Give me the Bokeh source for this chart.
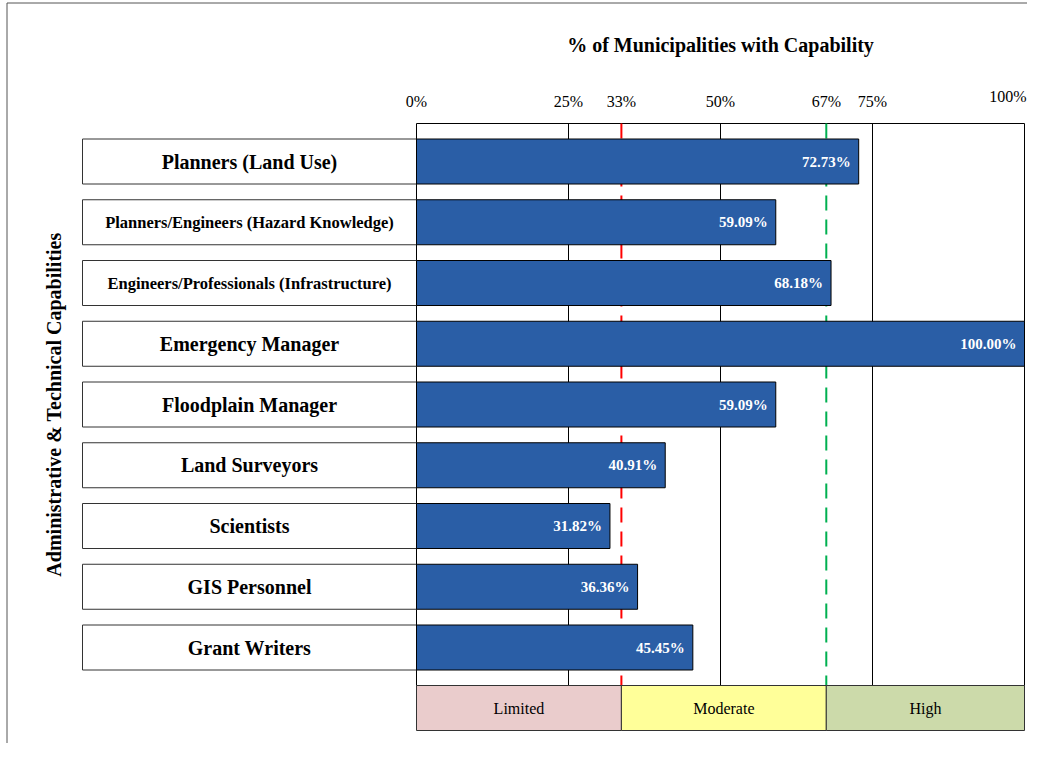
import math
from bokeh.plotting import figure
from bokeh.models import Range1d, ColumnDataSource
from bokeh.core.properties import value
from bokeh.embed import file_html
from bokeh.resources import INLINE

# ---------------- data ----------------
categories = [
    "Planners (Land Use)",
    "Planners/Engineers (Hazard Knowledge)",
    "Engineers/Professionals (Infrastructure)",
    "Emergency Manager",
    "Floodplain Manager",
    "Land Surveyors",
    "Scientists",
    "GIS Personnel",
    "Grant Writers",
]
percent_values = [72.73, 59.09, 68.18, 100.00, 59.09, 40.91, 31.82, 36.36, 45.45]

threshold_values = [33.7, 67.4]
tick_values = [0, 25, threshold_values[0], 50, threshold_values[1], 75]
tick_labels = ["0%", "25%", "33%", "50%", "67%", "75%"]
end_tick_value = 100
end_tick_label = "100%"
grid_values = [25, 50, 75]

band_names = ["Limited", "Moderate", "High"]
band_starts = [0, threshold_values[0], threshold_values[1]]
band_ends = [threshold_values[0], threshold_values[1], 100]

title_text = "% of Municipalities with Capability"
ylabel_text = "Administrative & Technical Capabilities"

# ---------------- layout (pixels of the picture) ----------------
W, H = 1027, 743
X0_PX, X100_PX = 416, 1024         # 0% and 100%
Y0_PX, STEP_PX = 161, 60.75        # center of first category, spacing
PX_PER_PCT = (X100_PX - X0_PX) / 100.0


def px_x(px):
    return (px - X0_PX) / PX_PER_PCT


def px_y(py):
    return (py - Y0_PX) / STEP_PX


FONT = value("Liberation Serif")
BAR_COLOR = "#2A5EA6"
BAND_COLORS = ["#EACCCC", "#FFFF99", "#CCDAAA"]
THRESH_COLORS = ["#FF0000", "#00B050"]

p = figure(
    width=W, height=H,
    x_range=Range1d(px_x(0), px_x(W)),
    y_range=Range1d(px_y(H), px_y(0)),
    x_axis_location=None, y_axis_location=None,
    toolbar_location=None, output_backend="svg",
    min_border=0,
)
p.outline_line_color = None
p.grid.visible = False
p.background_fill_color = "white"
p.border_fill_color = "white"

# outer border (left and top)
p.segment(x0=[px_x(6.5), px_x(6.5)], x1=[px_x(6.5), px_x(W)],
          y0=[px_y(2.5), px_y(2.5)], y1=[px_y(H), px_y(2.5)],
          line_color="#555555", line_width=1)

n = len(categories)
y_idx = list(range(n))
box_top = px_y(123)
box_bot = px_y(685)
band_bot = px_y(730)
bar_h = 45 / STEP_PX

# plot box
p.quad(left=[0], right=[100], top=[box_top], bottom=[box_bot],
       fill_color=None, line_color="black", line_width=1)

# gridlines at 25/50/75
p.segment(x0=grid_values, x1=grid_values,
          y0=[box_top] * len(grid_values), y1=[box_bot] * len(grid_values),
          line_color="black", line_width=1)

# threshold dashed lines
p.segment(x0=threshold_values, x1=threshold_values,
          y0=[box_top] * 2, y1=[box_bot] * 2,
          line_color=THRESH_COLORS, line_width=2, line_dash="15 9")

# category label boxes
p.hbar(y=y_idx, left=px_x(82), right=0, height=bar_h,
       fill_color="white", line_color="#333333", line_width=1)

# bars
src = ColumnDataSource(dict(
    y=y_idx, v=percent_values, cat=categories,
    vlab=[f"{v:.2f}%" for v in percent_values],
    fs=["16.5px" if len(c) > 30 else "20px" for c in categories],
))
p.hbar(y="y", left=0, right="v", height=bar_h, source=src,
       fill_color=BAR_COLOR, line_color="black", line_width=1)

# value labels
p.text(x="v", y="y", text="vlab", source=src, x_offset=-8,
       text_align="right", text_baseline="middle",
       text_color="white", text_font=FONT, text_font_style="bold",
       text_font_size="15px")

# category labels
p.text(x=px_x(249), y="y", text="cat", source=src,
       text_align="center", text_baseline="middle",
       text_color="black", text_font=FONT, text_font_style="bold",
       text_font_size="fs")

# tick labels
p.text(x=tick_values, y=[px_y(101)] * len(tick_values), text=tick_labels,
       text_align="center", text_baseline="middle",
       text_color="black", text_font=FONT, text_font_size="16px")
p.text(x=[end_tick_value], y=[px_y(96)], text=[end_tick_label], x_offset=2,
       text_align="right", text_baseline="middle",
       text_color="black", text_font=FONT, text_font_size="16px")

# title
p.text(x=[50], y=[px_y(44)], text=[title_text],
       text_align="center", text_baseline="middle",
       text_color="black", text_font=FONT, text_font_style="bold",
       text_font_size="20px")

# y label
p.text(x=[px_x(53)], y=[px_y(404)], text=[ylabel_text], angle=math.pi / 2,
       text_align="center", text_baseline="middle",
       text_color="black", text_font=FONT, text_font_style="bold",
       text_font_size="20px")

# capability bands
p.quad(left=band_starts, right=band_ends, top=[box_bot] * 3, bottom=[band_bot] * 3,
       fill_color=BAND_COLORS, line_color="#333333", line_width=1)
p.text(x=[(a + b) / 2 for a, b in zip(band_starts, band_ends)],
       y=[(box_bot + band_bot) / 2] * 3, text=band_names,
       text_align="center", text_baseline="middle",
       text_color="black", text_font=FONT, text_font_size="16px")

open("out.html", "w").write(file_html(p, INLINE))
